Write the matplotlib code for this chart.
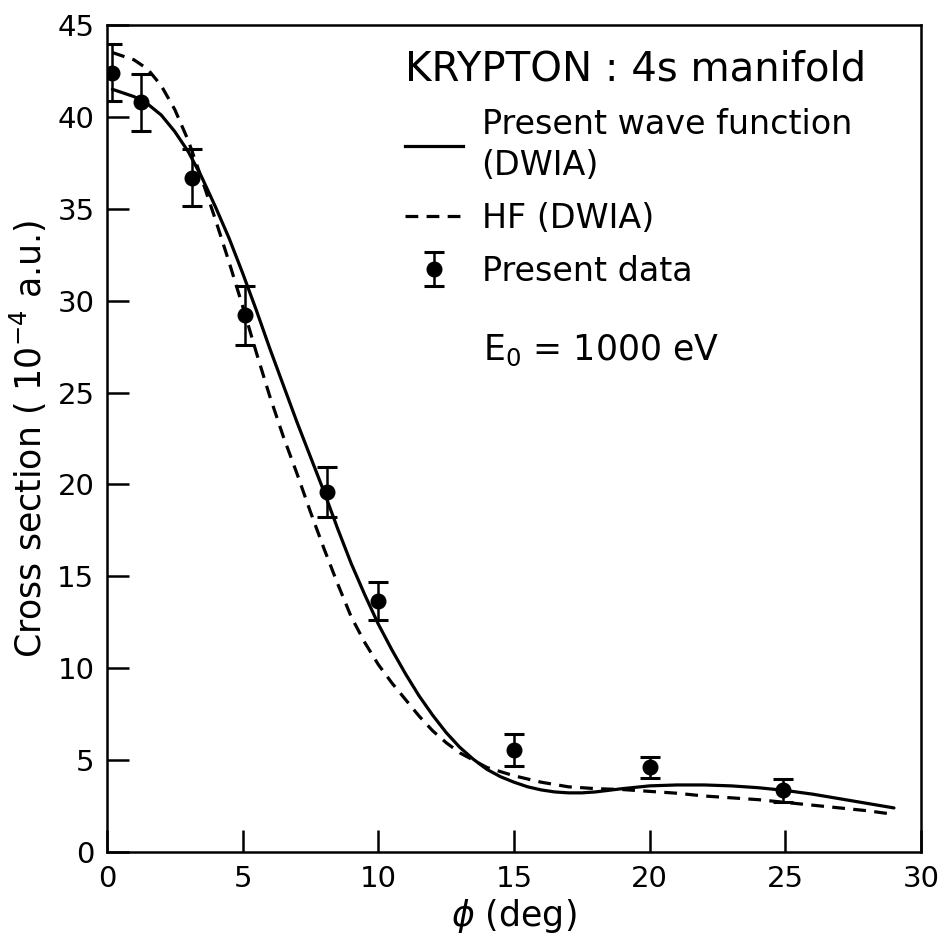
import numpy as np
import matplotlib
matplotlib.use("Agg")
import matplotlib.pyplot as plt
from matplotlib.lines import Line2D

# measured points (phi in deg, cross section in 1e-4 a.u.)
data_phi = [0.2, 1.25, 3.15, 5.1, 8.1, 10.0, 15.0, 20.0, 24.9]
data_cs = [42.4, 40.8, 36.7, 29.2, 19.6, 13.65, 5.55, 4.6, 3.35]
data_err = [1.55, 1.55, 1.55, 1.6, 1.35, 1.05, 0.85, 0.57, 0.65]

# present wave function (DWIA), solid line
pwf_phi = [0.2, 1.0, 1.5, 2.0, 2.5, 3.0, 3.5, 4.0, 4.5, 5.0, 5.5, 6.0, 6.5,
           7.0, 7.5, 8.0, 8.5, 9.0, 9.5, 10.0, 10.5, 11.0, 11.5, 12.0, 12.5,
           13.0, 13.5, 14.0, 14.5, 15.0, 15.5, 16.0, 16.5, 17.0, 17.5, 18.0,
           19.0, 20.0, 21.0, 22.0, 23.0, 24.0, 25.0, 26.0, 27.0, 28.0, 29.0]
pwf_cs = [41.5, 41.1, 40.7, 40.1, 39.2, 38.1, 36.7, 35.1, 33.4, 31.5, 29.5,
          27.4, 25.4, 23.4, 21.5, 19.6, 17.6, 15.7, 14.0, 12.4, 11.0, 9.7,
          8.5, 7.45, 6.5, 5.7, 5.05, 4.5, 4.1, 3.8, 3.55, 3.38, 3.27, 3.22,
          3.22, 3.27, 3.45, 3.6, 3.65, 3.65, 3.6, 3.5, 3.35, 3.15, 2.9, 2.65,
          2.4]

# HF (DWIA), dashed line
hf_phi = [0.2, 1.0, 1.5, 2.0, 2.5, 3.0, 3.5, 4.0, 4.5, 5.0, 5.5, 6.0, 6.5,
          7.0, 7.5, 8.0, 8.5, 9.0, 9.5, 10.0, 10.5, 11.0, 11.5, 12.0, 12.5,
          13.0, 14.0, 15.0, 16.0, 17.0, 18.0, 19.0, 20.0, 21.0, 22.0, 23.0,
          24.0, 25.0, 26.0, 27.0, 28.0, 29.0]
hf_cs = [43.5, 43.1, 42.6, 41.7, 40.4, 38.7, 36.6, 34.4, 32.1, 29.7, 27.2,
         24.8, 22.6, 20.6, 18.5, 16.5, 14.6, 12.8, 11.4, 10.2, 9.2, 8.3, 7.4,
         6.6, 5.95, 5.4, 4.6, 4.15, 3.8, 3.55, 3.45, 3.4, 3.3, 3.2, 3.05,
         2.95, 2.85, 2.7, 2.55, 2.4, 2.25, 2.05]

xticks = [0, 5, 10, 15, 20, 25, 30]
yticks = [0, 5, 10, 15, 20, 25, 30, 35, 40, 45]

plt.rcParams['font.family'] = ['DejaVu Sans']
plt.rcParams['mathtext.fontset'] = 'dejavusans'

fig = plt.figure(figsize=(9.38, 9.42), dpi=100)
ax = fig.add_axes([0.114, 0.0955, 0.868, 0.878])

dash = (0, (4, 2.6))
ax.plot(pwf_phi, pwf_cs, color='black', lw=2.3, solid_capstyle='round')
ax.plot(hf_phi, hf_cs, color='black', lw=2.3, ls=dash)
eb = ax.errorbar(data_phi, data_cs, yerr=data_err, fmt='o', color='black',
                 ms=10.5, capsize=7, elinewidth=1.8, capthick=2.2)

ax.set_xlim(0, 30)
ax.set_ylim(0, 45)
ax.set_xticks(xticks)
ax.set_yticks(yticks)
ax.tick_params(direction='in', length=16, width=1.8, labelsize=21, pad=9,
               top=False, right=False)
for side in ['left', 'bottom', 'right', 'top']:
    ax.spines[side].set_linewidth(1.8)

ax.set_xlabel(r'$\phi$ (deg)', fontsize=25, labelpad=3)
ax.set_ylabel(r'Cross section ( 10$^{-4}$ a.u.)', fontsize=25, labelpad=6)

handles = [Line2D([], [], color='black', lw=2.3),
           Line2D([], [], color='black', lw=2.3, ls=dash),
           eb]
labels = ['Present wave function\n(DWIA)', 'HF (DWIA)', 'Present data']
leg = ax.legend(handles, labels, title='KRYPTON : 4s manifold',
                loc='upper left', bbox_to_anchor=(0.366, 0.97),
                frameon=False, fontsize=24, title_fontsize=29,
                handlelength=1.75, handletextpad=0.55, labelspacing=0.6,
                borderpad=0, borderaxespad=0)
leg._legend_box.align = 'left'
leg._legend_box.sep = 13
for t in leg.get_texts():
    t.set_linespacing(1.3)

ax.text(0.462, 0.607, r'E$_0$ = 1000 eV', transform=ax.transAxes,
        fontsize=25, va='center', ha='left')

fig.savefig('out.png', dpi=100)
